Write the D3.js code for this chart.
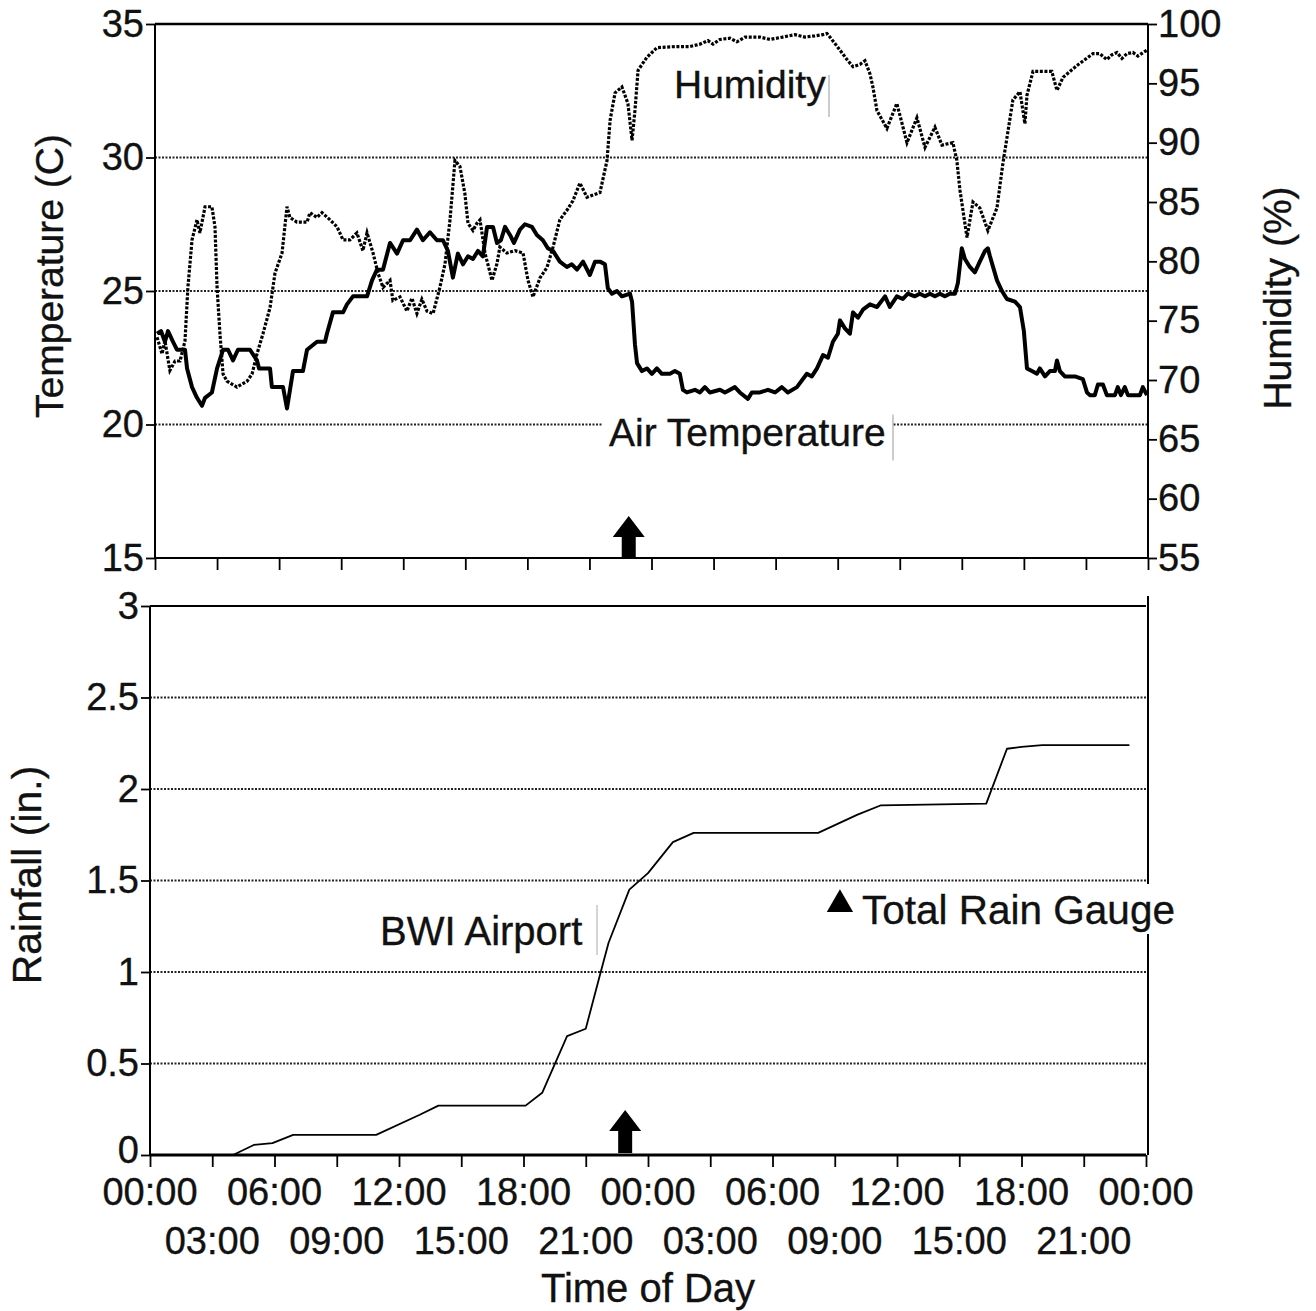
<!DOCTYPE html>
<html><head><meta charset="utf-8">
<script src="https://cdn.jsdelivr.net/npm/d3@7"></script>
<style>
body{margin:0;background:#fff}
svg{display:block}
text{font-family:"Liberation Sans",Arial,Helvetica,sans-serif;fill:#111;stroke:#111;stroke-width:0.35px}
</style>
</head><body>
<svg id="chart" width="1316" height="1311"></svg>
<script>
// ---------------- DATA ----------------
const tempHours = [0.10,0.29,0.48,0.63,0.87,1.06,1.45,1.55,1.79,2.03,2.27,2.42,2.75,3.00,3.29,3.53,3.77,4.01,4.59,4.93,5.03,5.56,5.65,6.19,6.38,6.67,7.15,7.35,7.83,8.22,8.31,8.60,9.09,9.28,9.57,10.25,10.49,10.73,11.02,11.36,11.70,11.99,12.33,12.66,12.95,13.29,13.63,13.92,14.16,14.40,14.64,14.89,15.13,15.37,15.61,15.85,16.05,16.34,16.53,16.72,16.92,17.16,17.35,17.64,17.88,18.22,18.46,18.75,18.99,19.24,19.57,19.91,20.15,20.40,20.69,21.02,21.27,21.51,21.75,21.89,22.09,22.33,22.57,22.96,23.06,23.20,23.30,23.54,23.78,24.02,24.26,24.50,24.89,25.13,25.37,25.52,25.71,26.10,26.34,26.58,26.82,27.31,27.55,28.03,28.27,28.66,28.85,29.24,29.63,29.97,30.30,30.59,31.03,31.51,31.75,32.00,32.29,32.53,32.77,33.01,33.11,33.35,33.59,33.74,33.98,34.22,34.56,34.90,35.29,35.52,35.86,36.15,36.39,36.73,36.97,37.22,37.46,37.70,37.94,38.18,38.42,38.67,38.81,39.00,39.15,39.39,39.63,39.87,40.12,40.26,40.36,40.70,40.94,41.18,41.57,41.81,42.00,42.15,42.39,42.63,42.77,43.02,43.26,43.50,43.60,43.74,43.98,44.47,44.85,45.05,45.19,45.43,45.58,45.82,46.01,46.40,46.54,46.69,46.88,47.03,47.61,47.75,47.95];
const tempValues = [23.4,23.5,23.1,23.5,23.1,22.8,22.8,22.1,21.4,21.0,20.7,21.0,21.2,22.1,22.8,22.8,22.4,22.8,22.8,22.4,22.1,22.1,21.4,21.4,20.6,22.0,22.0,22.8,23.1,23.1,23.4,24.2,24.2,24.5,24.8,24.8,25.4,25.8,25.8,26.8,26.4,26.9,26.9,27.3,26.9,27.2,26.9,26.9,26.5,25.5,26.4,26.0,26.3,26.2,26.5,26.3,27.4,27.4,26.8,26.9,27.4,27.1,26.8,27.3,27.5,27.4,27.1,26.9,26.6,26.5,26.1,25.9,26.0,25.8,26.1,25.6,26.1,26.1,26.0,25.1,24.9,25.0,24.8,24.9,24.6,23.0,22.3,22.0,22.1,21.9,22.1,21.9,21.9,22.0,21.9,21.3,21.2,21.3,21.2,21.4,21.2,21.3,21.2,21.4,21.2,20.96,21.2,21.2,21.3,21.2,21.4,21.2,21.4,21.9,21.8,22.1,22.6,22.5,23.1,23.4,23.9,23.6,23.4,24.2,24.0,24.3,24.5,24.4,24.8,24.4,24.8,24.7,24.9,24.8,24.9,24.8,24.9,24.8,24.9,24.8,24.9,24.9,25.3,26.6,26.2,25.9,25.7,26.1,26.5,26.6,26.3,25.4,25.0,24.7,24.6,24.4,23.5,22.1,22.0,21.9,22.1,21.8,22.0,22.0,22.4,22.0,21.8,21.8,21.7,21.2,21.1,21.1,21.5,21.5,21.1,21.1,21.4,21.1,21.4,21.1,21.1,21.4,21.1];

const humHours = [0.10,0.34,0.48,0.72,0.97,1.21,1.45,1.59,1.79,2.03,2.17,2.42,2.75,2.90,3.00,3.14,3.29,3.48,3.96,4.45,4.69,4.93,5.22,5.56,5.80,6.14,6.38,6.52,6.86,7.35,7.49,7.83,8.07,8.46,8.80,9.09,9.42,9.76,10.05,10.25,10.54,10.78,11.02,11.36,11.50,11.84,12.18,12.42,12.66,12.90,13.15,13.44,13.77,14.02,14.26,14.50,14.74,14.98,15.13,15.37,15.56,15.71,15.95,16.29,16.53,16.67,17.01,17.40,17.79,18.03,18.27,18.61,18.95,19.24,19.57,19.91,20.20,20.54,20.88,21.51,21.85,22.00,22.24,22.57,22.86,23.06,23.20,23.35,23.78,24.26,25.13,25.86,26.34,26.73,26.97,27.31,27.79,28.13,28.52,29.24,29.73,30.35,30.93,31.42,31.90,32.29,32.48,32.67,33.11,33.45,33.74,34.08,34.32,34.56,34.70,34.90,35.38,35.86,36.35,36.83,37.22,37.70,38.04,38.57,38.76,38.91,39.25,39.54,39.87,40.26,40.70,40.99,41.47,41.81,42.05,42.15,42.44,42.63,43.35,43.60,43.89,44.56,45.34,45.67,46.01,46.25,46.50,46.74,46.98,47.27,47.51,47.95];
const humValues = [73.6,72.2,73.3,70.8,71.6,71.6,73.3,77.8,81.8,83.5,82.4,84.6,84.6,82.9,77.8,73.9,70.5,69.9,69.4,69.9,70.5,72.2,73.9,76.1,79.0,80.7,84.6,83.7,83.3,83.3,84.1,83.7,84.1,83.5,82.9,81.8,81.8,82.4,80.9,82.4,80.7,79.0,77.8,78.4,76.7,77.0,75.8,76.9,75.6,76.8,75.8,75.6,77.8,79.8,83.5,88.5,88.0,85.7,83.2,82.6,83.2,83.5,80.7,78.4,79.8,81.2,80.7,80.9,80.7,78.4,77.0,78.6,79.5,81.2,83.5,84.3,85.1,86.6,85.4,85.8,88.5,91.9,94.2,94.7,93.3,90.2,92.7,96.1,97.2,98.0,98.1,98.1,98.3,98.6,98.3,98.7,98.8,98.5,98.9,98.9,98.7,98.9,99.1,98.9,99.0,99.1,99.2,98.8,97.8,97.0,96.4,96.6,96.9,95.8,94.7,92.7,91.2,93.3,90.0,92.1,89.6,91.3,89.8,90.0,88.5,86.0,82.0,85.0,84.5,82.6,84.5,88.3,93.6,94.3,91.6,94.0,96.0,96.0,96.0,94.4,95.5,96.5,97.5,97.5,97.0,97.4,97.6,97.1,97.5,97.6,97.3,97.8];

const rainHours = [0,4.0,5.0,5.9,6.9,10.9,13.0,13.9,18.1,18.9,20.1,21.0,21.7,22.1,23.1,24.0,25.2,26.2,32.2,34.1,35.2,40.3,41.3,42.0,43.0,47.2];
const rainValues = [0,0,0.055,0.065,0.11,0.11,0.22,0.27,0.27,0.34,0.65,0.69,0.99,1.16,1.45,1.54,1.71,1.76,1.76,1.86,1.91,1.92,2.22,2.23,2.24,2.24];

const tempTicks = [15,20,25,30,35];
const tempGrid = [20,25,30];
const humTicks = [55,60,65,70,75,80,85,90,95,100];
const rainTicks = [0,0.5,1,1.5,2,2.5,3];
const rainGrid = [0.5,1,1.5,2,2.5];
const hourTicks = [0,3,6,9,12,15,18,21,24,27,30,33,36,39,42,45,48];
const topRowHours = [0,6,12,18,24,30,36,42,48];
const topRowLabels = ["00:00","06:00","12:00","18:00","00:00","06:00","12:00","18:00","00:00"];
const bottomRowHours = [3,9,15,21,27,33,39,45];
const bottomRowLabels = ["03:00","09:00","15:00","21:00","03:00","09:00","15:00","21:00"];
const stormHour = 22.9;
const gaugeHour = 33.25, gaugeValue = 1.38;

// ---------------- SCALES ----------------
const svg = d3.select("#chart");
const xTop = d3.scaleLinear().domain([0,48]).range([155,1148]);
const yTemp = d3.scaleLinear().domain([15,35]).range([558,24]);
const yHum = d3.scaleLinear().domain([55,100]).range([558,24]);
const xBot = d3.scaleLinear().domain([0,48]).range([150,1146]);
const yRain = d3.scaleLinear().domain([0,3]).range([1155,606]);

const FS = 38;
const gridStyle = s => s.attr("stroke","#222").attr("stroke-width",1.8).attr("stroke-dasharray","2,1.5");

// ---------------- TOP PANEL ----------------
const topG = svg.append("g");
topG.selectAll("line.grid").data(tempGrid).join("line").attr("class","grid")
  .attr("x1",xTop(0)).attr("x2",xTop(48)).attr("y1",d=>yTemp(d)).attr("y2",d=>yTemp(d)).call(gridStyle);

topG.append("rect").attr("x",603).attr("y",yTemp(20)-16).attr("width",290).attr("height",40).attr("fill","#fff");
topG.append("line").attr("x1",893).attr("x2",893).attr("y1",yTemp(20)-10).attr("y2",yTemp(20)+36).attr("stroke","#999").attr("stroke-width",1);
topG.append("line").attr("x1",829).attr("x2",829).attr("y1",75).attr("y2",117).attr("stroke","#999").attr("stroke-width",1);

const tempLine = d3.line().x((d,i)=>xTop(tempHours[i])).y(d=>yTemp(d));
const humLine = d3.line().x((d,i)=>xTop(humHours[i])).y(d=>yHum(d));
topG.append("path").datum(humValues).attr("d",humLine).attr("fill","none")
  .attr("stroke","#000").attr("stroke-width",3.2).attr("stroke-dasharray","3,1.6");
topG.append("path").datum(tempValues).attr("d",tempLine).attr("fill","none")
  .attr("stroke","#000").attr("stroke-width",4).attr("stroke-linejoin","round");

topG.append("line").attr("x1",xTop(0)).attr("x2",xTop(48)).attr("y1",yTemp(35)).attr("y2",yTemp(35)).attr("stroke","#000").attr("stroke-width",2.5);
const axL = topG.append("g").attr("transform",`translate(${xTop(0)},0)`)
  .call(d3.axisLeft(yTemp).tickValues(tempTicks).tickSize(9).tickPadding(2).tickFormat(d3.format("d")));
const axR = topG.append("g").attr("transform",`translate(${xTop(48)},0)`)
  .call(d3.axisRight(yHum).tickValues(humTicks).tickSize(9).tickPadding(1).tickFormat(d3.format("d")));
const axB1 = topG.append("g").attr("transform",`translate(0,${yTemp(15)})`)
  .call(d3.axisBottom(xTop).tickValues(hourTicks).tickSize(12).tickFormat(""));
[axL,axR,axB1].forEach(a=>{
  a.select(".domain").attr("stroke","#000").attr("stroke-width",2);
  a.selectAll(".tick line").attr("stroke","#000").attr("stroke-width",1.8);
  a.selectAll("text").attr("font-size",FS).attr("fill","#111").style("font-family","'Liberation Sans',Arial,sans-serif");
});
axL.select(".domain").attr("d",`M0,${yTemp(15)}V${yTemp(35)}`);
axR.select(".domain").attr("d",`M0,${yHum(55)}V${yHum(100)}`);
axB1.select(".domain").attr("d",`M${xTop(0)},0H${xTop(48)}`);

topG.append("text").attr("x",674).attr("y",98).attr("font-size",39).text("Humidity");
topG.append("text").attr("x",609).attr("y",yTemp(20)+21).attr("font-size",39).text("Air Temperature");
topG.append("text").attr("transform",`translate(63,276) rotate(-90)`).attr("text-anchor","middle").attr("font-size",39).text("Temperature (C)");
topG.append("text").attr("transform",`translate(1291,298) rotate(-90)`).attr("text-anchor","middle").attr("font-size",39).text("Humidity (%)");

function blockArrow(g, cx, baseY, tipY){
  const headW=16, shaftW=7, headH=21;
  g.append("path").attr("d",
    `M${cx},${tipY} L${cx+headW},${tipY+headH} L${cx+shaftW},${tipY+headH} L${cx+shaftW},${baseY} L${cx-shaftW},${baseY} L${cx-shaftW},${tipY+headH} L${cx-headW},${tipY+headH} Z`)
    .attr("fill","#000");
}
blockArrow(topG, xTop(stormHour), yTemp(15)-1, yTemp(15)-42);

// ---------------- BOTTOM PANEL ----------------
const botG = svg.append("g");
botG.selectAll("line.grid").data(rainGrid).join("line").attr("class","grid")
  .attr("x1",xBot(0)).attr("x2",xBot(48)).attr("y1",d=>yRain(d)).attr("y2",d=>yRain(d)).call(gridStyle);

const rainLine = d3.line().x((d,i)=>xBot(rainHours[i])).y(d=>yRain(d));
botG.append("path").datum(rainValues).attr("d",rainLine).attr("fill","none")
  .attr("stroke","#000").attr("stroke-width",1.8).attr("stroke-linejoin","round");

botG.append("line").attr("x1",xBot(0)).attr("x2",xBot(48)).attr("y1",yRain(3)).attr("y2",yRain(3)).attr("stroke","#000").attr("stroke-width",2.2);
botG.append("line").attr("x1",xBot(48)+2).attr("x2",xBot(48)+2).attr("y1",yRain(3)-10).attr("y2",yRain(0)).attr("stroke","#000").attr("stroke-width",2);
const axL2 = botG.append("g").attr("transform",`translate(${xBot(0)},0)`)
  .call(d3.axisLeft(yRain).tickValues(rainTicks).tickSize(9).tickPadding(2).tickFormat(d=>String(d)));
const axB2 = botG.append("g").attr("transform",`translate(0,${yRain(0)})`)
  .call(d3.axisBottom(xBot).tickValues(hourTicks).tickSize(12).tickFormat(""));
[axL2,axB2].forEach(a=>{
  a.select(".domain").attr("stroke","#000").attr("stroke-width",2);
  a.selectAll(".tick line").attr("stroke","#000").attr("stroke-width",1.8);
  a.selectAll("text").attr("font-size",FS).attr("fill","#111").style("font-family","'Liberation Sans',Arial,sans-serif");
});
axL2.select(".domain").attr("d",`M0,${yRain(0)}V${yRain(3)}`);
axB2.select(".domain").attr("d",`M${xBot(0)},0H${xBot(48)}`).attr("stroke-width",3);
// nudge the "0" label up slightly so it clears the time labels
axL2.selectAll(".tick").filter(d=>d===0).select("text").attr("dy","0.2em");

botG.selectAll("text.row1").data(topRowHours).join("text").attr("class","row1")
  .attr("x",d=>xBot(d)).attr("y",1205).attr("text-anchor","middle").attr("font-size",FS)
  .text((d,i)=>topRowLabels[i]);
botG.selectAll("text.row2").data(bottomRowHours).join("text").attr("class","row2")
  .attr("x",d=>xBot(d)).attr("y",1254).attr("text-anchor","middle").attr("font-size",FS)
  .text((d,i)=>bottomRowLabels[i]);
botG.append("text").attr("x",(xBot(0)+xBot(48))/2).attr("y",1302).attr("text-anchor","middle").attr("font-size",40).text("Time of Day");
botG.append("text").attr("transform",`translate(41,875) rotate(-90)`).attr("text-anchor","middle").attr("font-size",41).text("Rainfall (in.)");

botG.append("line").attr("x1",597).attr("x2",597).attr("y1",905).attr("y2",955).attr("stroke","#aaa").attr("stroke-width",1);
botG.append("text").attr("x",380).attr("y",945).attr("font-size",40).text("BWI Airport");
botG.append("rect").attr("x",855).attr("y",884).attr("width",335).attr("height",50).attr("fill","#fff");
botG.append("path").attr("d",d3.symbol().type(d3.symbolTriangle).size(300)())
  .attr("transform",`translate(${xBot(gaugeHour)},${yRain(gaugeValue)+2})`).attr("fill","#000");
botG.append("text").attr("x",862).attr("y",924).attr("font-size",40.5).text("Total Rain Gauge");

blockArrow(botG, xBot(stormHour), yRain(0)-2, yRain(0)-45);
</script>
</body></html>
